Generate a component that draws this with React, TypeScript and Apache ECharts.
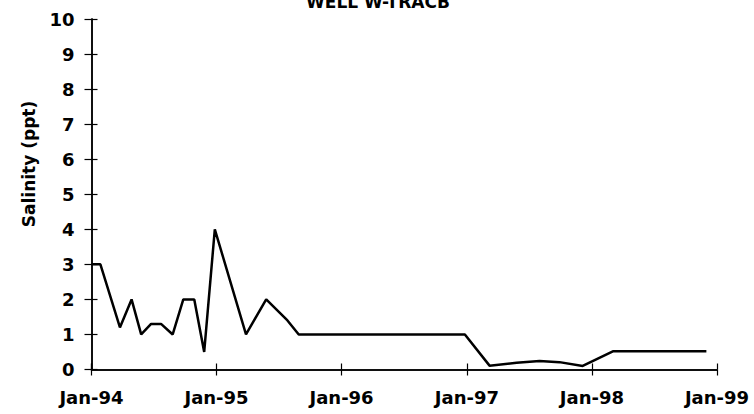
import React, { useEffect, useRef } from "react";
import * as echarts from "echarts";

const titleText = "WELL W-TRACB";
const yAxisName = "Salinity (ppt)";
const sampleDates = [
  "1994-01-01", "1994-01-27", "1994-03-25", "1994-04-28", "1994-05-26",
  "1994-06-24", "1994-07-23", "1994-08-26", "1994-09-26", "1994-10-28",
  "1994-11-26", "1994-12-27", "1995-03-28", "1995-05-26", "1995-07-27",
  "1995-08-29", "1996-12-26", "1997-03-08", "1997-05-26", "1997-08-01",
  "1997-09-28", "1997-12-05", "1998-03-03", "1998-12-01",
];
const salinity = [
  3.0, 3.0, 1.2, 2.0, 1.0,
  1.3, 1.3, 1.0, 2.0, 2.0,
  0.5, 4.0, 1.0, 2.0, 1.4,
  1.0, 1.0, 0.11, 0.19, 0.24,
  0.21, 0.1, 0.52, 0.52,
];
const xMin = "1994-01-01";
const xMax = "1999-01-01";
const monthNames = ["Jan", "Feb", "Mar", "Apr", "May", "Jun", "Jul", "Aug", "Sep", "Oct", "Nov", "Dec"];

const FONT = "DejaVu Sans";

export default function App() {
  const ref = useRef<HTMLDivElement>(null);
  useEffect(() => {
    if (!ref.current) return;
    const chart = echarts.init(ref.current, null, { renderer: "svg" });
    const fmt = (v: number) => {
      const d = new Date(v);
      return monthNames[d.getMonth()] + "-" + String(d.getFullYear()).slice(2);
    };
    const baseX = {
      type: "time" as const,
      min: xMin,
      max: xMax,
      splitNumber: 5,
      position: "bottom" as const,
      axisLine: { show: true, lineStyle: { color: "#000", width: 1.5 } },
      splitLine: { show: false },
      minorTick: { show: false },
    };
    const baseY = {
      type: "value" as const,
      min: 0,
      max: 10,
      interval: 1,
      position: "left" as const,
      axisLine: { show: true, lineStyle: { color: "#000", width: 1.5 } },
      splitLine: { show: false },
    };
    chart.setOption({
      animation: false,
      backgroundColor: "#fff",
      grid: { left: 91.5, right: 37, top: 19, bottom: 44.5 },
      graphic: [
        {
          type: "text",
          x: 378,
          y: 10,
          style: {
            text: titleText,
            fill: "#000",
            font: `bold 17px "${FONT}"`,
            align: "center",
            verticalAlign: "bottom",
          },
        },
        {
          type: "text",
          x: 29,
          y: 164,
          rotation: Math.PI / 2,
          style: {
            text: yAxisName,
            fill: "#000",
            font: `bold 17px "${FONT}"`,
            align: "center",
            verticalAlign: "middle",
          },
        },
      ],
      xAxis: [
        {
          ...baseX,
          axisTick: { show: true, inside: false, length: 6, lineStyle: { color: "#000", width: 1.2 } },
          axisLabel: {
            show: true,
            formatter: fmt,
            margin: 19,
            color: "#000",
            fontFamily: FONT,
            fontWeight: "bold",
            fontSize: 18,
            showMinLabel: true,
            showMaxLabel: true,
          },
        },
        {
          ...baseX,
          axisTick: { show: true, inside: true, length: 6, lineStyle: { color: "#000", width: 1.2 } },
          axisLabel: { show: false },
        },
      ],
      yAxis: [
        {
          ...baseY,
          axisTick: { show: true, inside: false, length: 7, lineStyle: { color: "#000", width: 1.2 } },
          axisLabel: {
            show: true,
            margin: 17,
            color: "#000",
            fontFamily: FONT,
            fontWeight: "bold",
            fontSize: 18,
          },
        },
        {
          ...baseY,
          axisTick: { show: true, inside: true, length: 6, lineStyle: { color: "#000", width: 1.2 } },
          axisLabel: { show: false },
        },
      ],
      series: [
        {
          type: "line",
          xAxisIndex: 0,
          yAxisIndex: 0,
          data: sampleDates.map((d, i) => [d, salinity[i]]),
          showSymbol: false,
          symbol: "none",
          lineStyle: { color: "#000", width: 2.5 },
          itemStyle: { color: "#000" },
        },
      ],
    });
    return () => chart.dispose();
  }, []);
  return <div ref={ref} style={{ width: 754, height: 414, position: "absolute", left: 0, top: 0 }} />;
}
